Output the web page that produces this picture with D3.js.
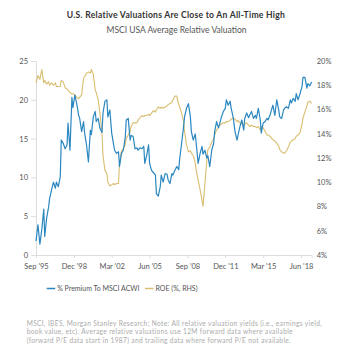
<!DOCTYPE html>
<html><head><meta charset="utf-8">
<script src="https://cdn.jsdelivr.net/npm/d3@7"></script>
<style>
html,body{margin:0;padding:0;background:#fff;}
svg{display:block;font-family:"Lato","Open Sans",sans-serif;}
</style></head>
<body><svg id="c" width="360" height="358"></svg>
<script>
const title = "U.S. Relative Valuations Are Close to An All-Time High";
const subtitle = "MSCI USA Average Relative Valuation";
const seriesNames = ["% Premium To MSCI ACWI", "ROE (%, RHS)"];
const leftTicks = [0, 5, 10, 15, 20, 25];
const rightTicks = [4, 6, 8, 10, 12, 14, 16, 18, 20];
const xTickDates = ["1995-09","1998-12","2002-03","2005-06","2008-09","2011-12","2015-03","2018-06"];
const xTickLabels = ["Sep '95","Dec '98","Mar '02","Jun '05","Sep '08","Dec '11","Mar '15","Jun '18"];
const footnote = [
 "MSCI, IBES, Morgan Stanley Research; Note: All relative valuation yields (i.e., earnings yield,",
 "book value, etc). Average relative valuations use 12M forward data where available",
 "(forward P/E data start in 1987) and trailing data where forward P/E not available."
];

const dates = ["1995-09","1995-11","1996-01","1996-03","1996-05","1996-06","1996-08","1996-10","1996-11",
"1997-01","1997-03","1997-05","1997-06","1997-08","1997-10","1997-11",
"1998-01","1998-03","1998-05","1998-06","1998-08","1998-10","1998-11",
"1999-01","1999-03","1999-05","1999-06","1999-08","1999-10","1999-11",
"2000-01","2000-03","2000-05","2000-06","2000-08","2000-10","2000-11",
"2001-01","2001-03","2001-05","2001-06","2001-08","2001-10","2001-11",
"2002-01","2002-03","2002-05","2002-06","2002-08","2002-10","2002-11",
"2003-01","2003-03","2003-05","2003-06","2003-08","2003-10","2003-11",
"2004-01","2004-03","2004-05","2004-06","2004-08","2004-10","2004-12",
"2005-01","2005-03","2005-05","2005-06","2005-08","2005-10","2005-12",
"2006-01","2006-03","2006-05","2006-06","2006-08","2006-10","2006-12",
"2007-01","2007-03","2007-05","2007-06","2007-08","2007-10","2007-12",
"2008-01","2008-03","2008-05","2008-06","2008-08","2008-10","2008-12",
"2009-01","2009-03","2009-05","2009-06","2009-08","2009-10","2009-12",
"2010-01","2010-03","2010-05","2010-06","2010-08","2010-10","2010-12",
"2011-01","2011-03","2011-05","2011-06","2011-08","2011-10","2011-12",
"2012-01","2012-03","2012-05","2012-06","2012-08","2012-10","2012-12",
"2013-01","2013-03","2013-05","2013-07","2013-08","2013-10","2013-12",
"2014-01","2014-03","2014-05","2014-07","2014-08","2014-10","2014-12",
"2015-01","2015-03","2015-05","2015-07","2015-08","2015-10","2015-12",
"2016-01","2016-03","2016-05","2016-07","2016-08","2016-10","2016-12",
"2017-01","2017-03","2017-05","2017-07","2017-08","2017-10","2017-12",
"2018-01","2018-03","2018-05","2018-07","2018-08","2018-10","2018-12",
"2019-01","2019-03","2019-05"];

const premium = [1.8,3.9,1.4,3.3,5.9,2.4,4.8,6.2,7.3,
8.4,9.4,8.6,9.4,8.8,10.1,14.8,
14.4,13.7,14.2,17.0,13.5,20.3,19.0,
20.6,19.5,18.0,17.6,15.9,17.2,15.8,
14.2,12.0,16.1,15.5,17.8,18.5,17.2,
17.6,16.3,15.8,18.3,19.8,20.0,17.8,
18.7,15.7,14.2,13.5,13.1,13.3,11.4,
13.1,13.5,15.2,17.4,17.6,14.8,15.4,
15.3,13.7,13.8,13.5,13.8,13.7,14.0,
11.8,12.8,14.2,11.8,10.9,10.6,10.3,
7.9,7.6,8.8,10.3,9.4,10.5,10.4,
9.7,9.2,10.5,10.3,10.9,11.4,11.0,
12.4,14.4,16.5,17.8,18.9,19.5,17.8,
15.9,14.8,15.6,14.4,11.8,13.1,14.0,
13.0,13.5,12.5,12.8,11.4,13.5,14.4,
15.9,17.2,16.4,16.8,17.8,18.5,18.9,
20.0,19.3,19.8,18.9,17.8,15.9,14.8,
15.4,16.5,17.4,16.1,17.6,18.3,17.7,
18.0,18.5,17.6,18.0,17.6,18.9,17.4,
15.7,17.0,17.2,17.6,17.4,18.0,18.9,
19.3,18.0,20.0,18.7,17.8,17.6,18.7,
18.9,19.1,18.9,20.0,19.6,20.2,19.8,
20.8,20.0,20.8,21.7,22.9,22.9,21.5,
22.1,21.8,22.3];

const roe = [18.2,18.8,18.5,19.3,18.2,18.4,18.1,18.3,18.0,
18.2,18.0,18.2,17.9,17.9,17.9,18.4,
18.3,17.8,17.7,17.6,17.4,17.3,17.3,
17.2,17.0,16.9,17.0,17.2,18.6,18.7,
19.0,19.1,19.0,19.3,18.9,17.6,17.4,
16.8,15.6,14.0,12.2,11.0,10.7,10.0,
9.7,9.8,9.9,9.8,9.9,9.9,11.6,
12.6,12.8,13.1,13.6,13.9,14.2,14.6,
14.9,14.9,14.9,15.1,15.3,15.5,15.4,
15.5,15.5,15.6,15.5,15.7,15.9,15.8,
16.0,16.2,16.1,16.2,16.1,16.2,16.3,
16.4,16.5,16.6,16.8,17.1,17.1,16.4,
16.2,15.7,15.0,14.2,13.1,12.5,12.6,
12.4,12.2,11.6,11.0,10.2,9.4,8.5,
8.0,9.9,11.8,12.7,12.9,13.3,13.6,
13.9,14.3,14.5,14.7,14.8,14.9,14.9,
15.0,15.0,15.1,15.2,15.3,15.2,15.0,
15.1,14.9,14.8,14.7,14.8,14.9,14.7,
14.6,14.7,14.6,14.6,14.5,14.6,14.3,
14.6,14.5,14.2,13.9,13.9,13.8,13.6,
13.5,13.4,13.2,13.0,12.7,12.5,12.4,
12.4,12.6,12.9,13.3,13.4,13.5,13.6,
13.8,13.9,14.1,14.8,15.3,15.8,16.3,
16.6,16.7,16.5];

const colors = ["#2b87c0", "#d9bd6f"];
const parse = d3.timeParse("%Y-%m");
const D = dates.map(parse);

const svg = d3.select("#c");
const M = {l:36, r:311.7, t:61, b:255};
const x = d3.scaleTime().domain(d3.extent(D)).range([M.l, M.r]);
const yL = d3.scaleLinear().domain([0,25]).range([M.b, M.t]);
const yR = d3.scaleLinear().domain([4,20]).range([M.b, M.t]);

svg.append("text").attr("x",176).attr("y",17.5).attr("text-anchor","middle")
  .attr("font-size",8.6).attr("font-weight",700).attr("letter-spacing",0.25).attr("fill","#333").text(title);
svg.append("text").attr("x",176.5).attr("y",32.5).attr("text-anchor","middle")
  .attr("font-size",8.5).attr("fill","#555").text(subtitle);

// left axis
const gl = svg.append("g").attr("transform",`translate(${M.l},0)`)
  .call(d3.axisLeft(yL).tickValues(leftTicks).tickSize(5).tickPadding(3));
gl.select(".domain").attr("stroke","#ddd");
gl.selectAll(".tick line").attr("stroke","#ddd");
gl.selectAll("text").attr("fill","#555").attr("font-size",7.5).attr("font-family","Lato, sans-serif");

// right axis
const gr = svg.append("g").attr("transform",`translate(${M.r},0)`)
  .call(d3.axisRight(yR).tickValues(rightTicks).tickSize(0).tickPadding(5).tickFormat(d=>d+"%"));
gr.select(".domain").remove();
gr.selectAll("text").attr("fill","#555").attr("font-size",7.5).attr("font-family","Lato, sans-serif");

// x axis
const gx = svg.append("g").attr("transform",`translate(0,${M.b})`)
  .call(d3.axisBottom(x).tickValues(xTickDates.map(parse)).tickSize(3).tickPadding(6)
    .tickFormat((d,i)=>xTickLabels[i]));
gx.select(".domain").attr("stroke","#ddd");
gx.selectAll(".tick line").attr("stroke","#ddd");
gx.selectAll("text").attr("fill","#555").attr("font-size",7.5).attr("font-family","Lato, sans-serif");

const lineL = d3.line().x((d,i)=>x(D[i])).y(d=>yL(d));
const lineR = d3.line().x((d,i)=>x(D[i])).y(d=>yR(d));
svg.append("path").datum(roe).attr("d",lineR).attr("fill","none")
  .attr("stroke",colors[1]).attr("stroke-width",1.1).attr("stroke-linejoin","round");
svg.append("path").datum(premium).attr("d",lineL).attr("fill","none")
  .attr("stroke",colors[0]).attr("stroke-width",1.2).attr("stroke-linejoin","round");

// legend
const leg = [{x:46.7, t:seriesNames[0], c:colors[0]},{x:145, t:seriesNames[1], c:colors[1]}];
leg.forEach(l=>{
  svg.append("line").attr("x1",l.x).attr("x2",l.x+8.5).attr("y1",288.5).attr("y2",288.5)
    .attr("stroke",l.c).attr("stroke-width",1.5);
  svg.append("text").attr("x",l.x+10.5).attr("y",291).attr("font-size",7)
    .attr("fill","#555").text(l.t);
});

footnote.forEach((s,i)=>{
  svg.append("text").attr("x",26.7).attr("y",325.5+i*8.7).attr("font-size",6.6)
    .attr("fill","#aaa").attr("letter-spacing",0.35).text(s);
});
</script></body></html>
